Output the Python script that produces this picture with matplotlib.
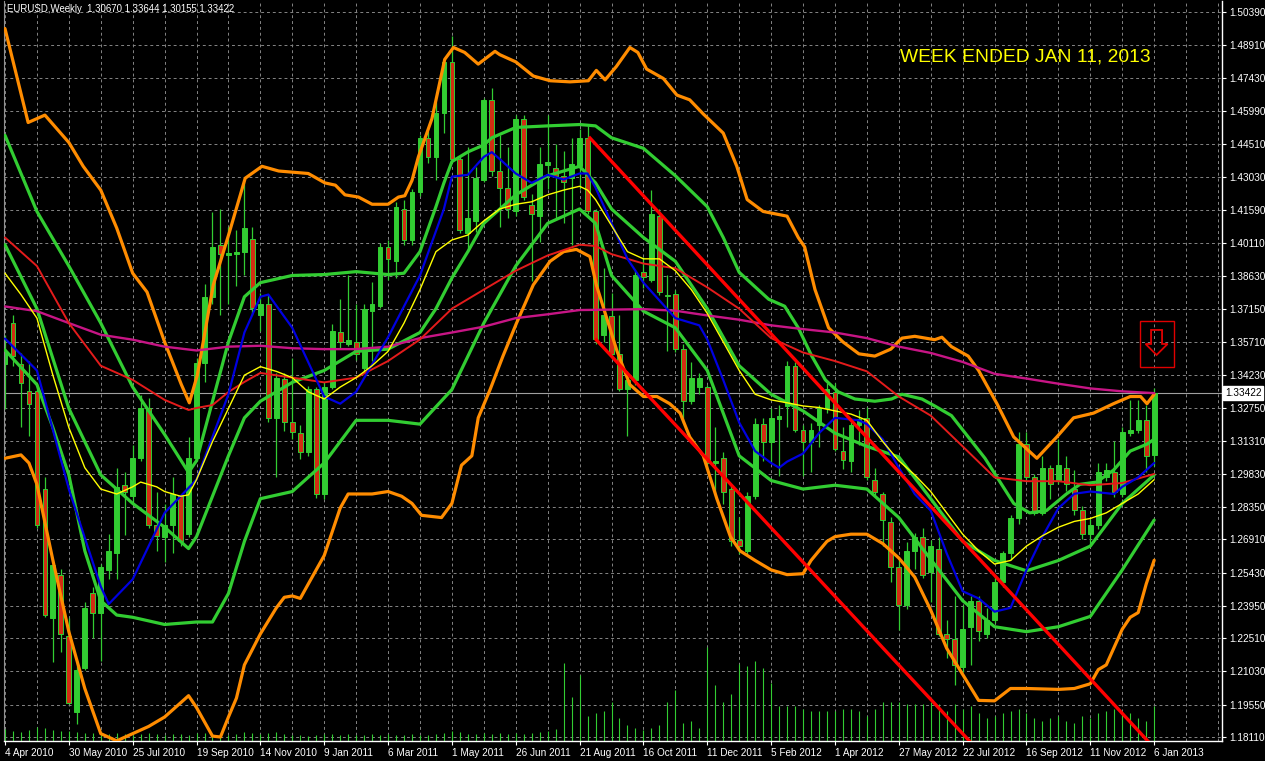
import matplotlib
matplotlib.use("Agg")
import matplotlib.pyplot as plt
import matplotlib.transforms as mtransforms
from matplotlib.patches import Rectangle, Polygon

# ---------------- data (EURUSD weekly, bar 0 = week of 4 Apr 2010) ----------------
opens = [1.3470,1.3655,1.3470,1.3350,1.3350,1.2915,1.2340,1.2534,1.2259,1.1921,
         1.2120,1.2450,1.2365,1.2555,1.2630,1.2935,1.2883,1.3052,1.3274,1.2756,
         1.2703,1.2756,1.2883,1.2714,1.3052,1.3475,1.3771,1.4000,1.3955,1.3960,
         1.3972,1.4030,1.3690,1.3739,1.3232,1.3405,1.3215,1.3165,1.3080,1.3360,
         1.2895,1.3370,1.3615,1.3560,1.3570,1.3455,1.3707,1.3728,1.3993,1.3930,
         1.4162,1.4024,1.4236,1.4479,1.4394,1.4589,1.4817,1.4384,1.4056,1.4110,
         1.4289,1.4648,1.4331,1.4257,1.4151,1.4563,1.4180,1.4130,1.4360,1.4345,
         1.4310,1.4299,1.4352,1.4479,1.4151,1.3600,1.3686,1.3517,1.3360,1.3400,
         1.3880,1.3845,1.4130,1.3780,1.3782,1.3538,1.3306,1.3370,1.3369,1.3031,
         1.3052,1.2915,1.2690,1.2640,1.2883,1.3204,1.3126,1.3225,1.3285,1.3464,
         1.3179,1.3126,1.3200,1.3274,1.3348,1.3084,1.3041,1.3200,1.3232,1.2957,
         1.2893,1.2767,1.2566,1.2397,1.2640,1.2703,1.2545,1.2650,1.2270,1.2249,
         1.2122,1.2302,1.2418,1.2270,1.2333,1.2502,1.2629,1.2788,1.3115,1.2967,
         1.2809,1.3010,1.2957,1.3010,1.2915,1.2820,1.2714,1.2756,1.2967,1.2989,
         1.2893,1.3165,1.3180,1.3221,1.30670]
highs = [1.3600,1.3690,1.3520,1.3485,1.3370,1.2970,1.2600,1.2560,1.2340,1.2150,
         1.2410,1.2480,1.2580,1.2715,1.3010,1.2990,1.3110,1.3333,1.3320,1.2900,
         1.2850,1.2970,1.2890,1.3148,1.3500,1.3830,1.4150,1.4160,1.4080,1.4070,
         1.4282,1.4080,1.3790,1.3780,1.3433,1.3430,1.3500,1.3200,1.3375,1.3370,
         1.3390,1.3650,1.3760,1.3870,1.3740,1.3740,1.3835,1.4010,1.4025,1.4195,
         1.4200,1.4250,1.4490,1.4510,1.4640,1.4830,1.4933,1.4395,1.4440,1.4350,
         1.4655,1.4700,1.4490,1.4440,1.4580,1.4580,1.4230,1.4440,1.4580,1.4450,
         1.4420,1.4480,1.4520,1.4530,1.4160,1.3900,1.3790,1.3690,1.3440,1.3890,
         1.3950,1.4246,1.4160,1.3866,1.3800,1.3560,1.3480,1.3430,1.3380,1.3190,
         1.3080,1.2930,1.2790,1.2900,1.3230,1.3230,1.3275,1.3290,1.3486,1.3480,
         1.3200,1.3210,1.3290,1.3385,1.3385,1.3190,1.3215,1.3265,1.3280,1.3010,
         1.2904,1.2790,1.2600,1.2680,1.2720,1.2740,1.2690,1.2700,1.2330,1.2440,
         1.2400,1.2440,1.2440,1.2386,1.2530,1.2640,1.2800,1.3170,1.3170,1.2980,
         1.3060,1.3020,1.3140,1.3060,1.2999,1.2840,1.2780,1.3030,1.3030,1.3130,
         1.3190,1.3310,1.3310,1.3290,1.33644]
lows = [1.3270,1.3464,1.3190,1.3150,1.2740,1.2345,1.2143,1.2190,1.1960,1.1870,
        1.2110,1.2250,1.2150,1.2515,1.2515,1.2710,1.2850,1.3040,1.2740,1.2640,
        1.2588,1.2630,1.2660,1.2700,1.3040,1.3390,1.3740,1.3690,1.3740,1.3820,
        1.3870,1.3690,1.3620,1.3215,1.2967,1.3175,1.3140,1.3050,1.3060,1.2875,
        1.2870,1.3360,1.3540,1.3550,1.3490,1.3430,1.3485,1.3720,1.3845,1.3855,
        1.4000,1.4000,1.4220,1.4365,1.4290,1.4500,1.4373,1.4055,1.3970,1.4060,
        1.4280,1.4310,1.4080,1.4120,1.4130,1.4200,1.3840,1.4015,1.4250,1.4120,
        1.4100,1.4000,1.4250,1.4140,1.3560,1.3570,1.3500,1.3350,1.3150,1.3380,
        1.3810,1.3835,1.3780,1.3530,1.3527,1.3210,1.3295,1.3340,1.3010,1.2890,
        1.2850,1.2660,1.2624,1.2624,1.2870,1.3040,1.3030,1.2975,1.3190,1.3170,
        1.2975,1.2990,1.3100,1.3255,1.3085,1.3005,1.2990,1.3110,1.2955,1.2890,
        1.2660,1.2500,1.2288,1.2380,1.2560,1.2520,1.2410,1.2260,1.2164,1.2042,
        1.2100,1.2130,1.2240,1.2250,1.2320,1.2480,1.2600,1.2760,1.2950,1.2800,
        1.2800,1.2870,1.2936,1.2905,1.2800,1.2692,1.2660,1.2735,1.2950,1.2880,
        1.2880,1.3150,1.3165,1.2990,1.30155]
closes = [1.3530,1.3506,1.3385,1.3295,1.2756,1.2354,1.2576,1.2270,1.1963,1.2111,
          1.2386,1.2365,1.2566,1.2640,1.2925,1.2900,1.3052,1.3274,1.2756,1.2707,
          1.2756,1.2894,1.2682,1.3052,1.3475,1.3771,1.3993,1.3960,1.3965,1.3970,
          1.4077,1.3720,1.3739,1.3232,1.3411,1.3215,1.3170,1.3080,1.3360,1.2895,
          1.3370,1.3620,1.3570,1.3580,1.3517,1.3718,1.3739,1.3993,1.3940,1.4172,
          1.4024,1.4236,1.4479,1.4394,1.4589,1.4817,1.4384,1.4067,1.4120,1.4299,
          1.4648,1.4331,1.4257,1.4162,1.4563,1.4215,1.4140,1.4363,1.4370,1.4310,
          1.4280,1.4363,1.4479,1.4151,1.3581,1.3690,1.3517,1.3359,1.3400,1.3866,
          1.3860,1.4141,1.3792,1.3775,1.3538,1.3306,1.3411,1.3410,1.3031,1.3041,
          1.2904,1.2682,1.2660,1.2883,1.3204,1.3126,1.3232,1.3240,1.3464,1.3179,
          1.3126,1.3179,1.3274,1.3359,1.3094,1.3045,1.3200,1.3225,1.2967,1.2904,
          1.2777,1.2566,1.2397,1.2640,1.2703,1.2534,1.2661,1.2270,1.2249,1.2132,
          1.2291,1.2418,1.2281,1.2333,1.2502,1.2629,1.2788,1.3115,1.2967,1.2809,
          1.3010,1.2936,1.3020,1.2936,1.2820,1.2714,1.2756,1.2989,1.2999,1.2904,
          1.3168,1.3180,1.3221,1.3063,1.33422]
volumes = [12,10,9,11,14,13,11,10,10,9, 8,8,7,7,8,7,6,7,8,7,
           6,7,7,6,8,8,7,7,6,7, 9,8,7,8,9,7,6,6,5,6,
           7,7,6,7,6,6,7,6,7,6, 6,7,6,6,7,8,10,9,7,7,
           8,7,8,7,8,7,8,9,10,12, 78,44,66,25,28,30,39,23,16,13,
           11,13,16,39,51,18,20,13,94,56, 39,47,77,75,80,73,58,35,35,35,
           32,30,30,30,30,32,32,30,25,32, 39,39,39,37,37,37,39,37,30,37,
           32,35,28,23,25,28,30,32,28,23, 20,23,25,20,18,25,23,28,30,32,
           28,28,23,20,35]
volume_scale = 740.0

# indicator lines, read at sampled bars
ou_bars = [0,2.9,5,8,9.8,12,14,16,17.8,20,22.1,23.1,24.1,26.1,28.1,30.1,32.2,34.3,38,40.1,41.4,42.6,44.3,46,48,
           49.3,50.1,51,51.8,53.5,55.1,56.2,57.6,59.3,61.4,62,64,66.2,68.3,70.8,73.1,74.1,75.2,76.6,78.3,79.3,80.4,
           82.5,84.2,85.8,87.5,90,91.7,93,95,98,99.4,100.2,101.5,103.2,105,107,109,111,112.4,114,116.5,117.4,
           118.6,120.7,122,124.3,126.4,129.3,131.8,133.9,136.4,138.9,141,142.3,143.1,144]
ou_vals = [1.4965,1.4547,1.4580,1.4458,1.4352,1.4246,1.4077,1.3876,1.3792,1.3570,1.3380,1.3299,1.3422,1.3824,
           1.4056,1.4299,1.4352,1.4331,1.4320,1.4278,1.4268,1.4225,1.4215,1.4183,1.4183,1.4215,1.4221,1.4289,
           1.4394,1.4564,1.4828,1.4881,1.4859,1.4807,1.4864,1.4849,1.4817,1.4754,1.4733,1.4728,1.4733,1.4779,
           1.4737,1.4796,1.4881,1.4859,1.4785,1.4743,1.4669,1.4648,1.4585,1.4500,1.4352,1.4204,1.4151,1.4130,
           1.4035,1.3993,1.3803,1.3633,1.3570,1.3517,1.3507,1.3538,1.3587,1.3595,1.3580,1.3591,1.3549,1.3507,
           1.3443,1.3295,1.3147,1.3052,1.3147,1.3232,1.3253,1.3295,1.3327,1.3327,1.3295,1.3337]

gu_bars = [0,4,8,12,16,20,23,24,28,30,32,36,40,44,48,50,52,54,55,56,58,60,61,64,68,72,74,76,80,84,88,90,92,
           95.7,97.7,99.4,101.1,102.8,104.4,106.5,109,111.1,112.4,114.9,116.5,118.6,120.7,122.8,
           126.4,128.4,130.5,133,134.7,136.8,138.9,141,143.1,144]
gu_vals = [1.4490,1.4151,1.3908,1.3654,1.3369,1.3158,1.2989,1.3041,1.3570,1.3771,1.3834,1.3866,1.3870,1.3883,
           1.3870,1.3876,1.3972,1.4172,1.4278,1.4373,1.4416,1.4447,1.4479,1.4525,1.4532,1.4538,1.4532,1.4479,
           1.4432,1.4310,1.4172,1.4035,1.3880,1.3760,1.3729,1.3633,1.3507,1.3401,1.3348,1.3316,1.3306,1.3316,
           1.3337,1.3316,1.3285,1.3242,1.3147,1.3052,1.2851,1.2809,1.2819,1.2893,1.2936,1.2946,1.2999,1.3084,
           1.3115,1.3137]

gm_bars = [0,4,8,12,16,20,23,24,28,30,32,36,40,44,48,52,54,56,58,60,64,68,72,74,76,80,84,88,92,96,100,104,
           108,112,116,120,124,128,132,136,140,144]
gm_vals = [1.4003,1.3718,1.3274,1.2978,1.2851,1.2745,1.2650,1.2703,1.3063,1.3232,1.3306,1.3390,1.3443,1.3528,
           1.3538,1.3612,1.3718,1.3855,1.3972,1.4098,1.4225,1.4310,1.4352,1.4278,1.4162,1.4035,1.3929,1.3718,
           1.3464,1.3337,1.3263,1.3164,1.3105,1.3058,1.2872,1.2682,1.2597,1.2551,1.2597,1.2661,1.2851,1.2978]

gl_bars = [0,4,6,8,10,12,14,16,20,24,26,28,30,32,36,40,44,48,52,56,60,64,68,72,74,76,80,84,88,92,96,100,104,
           108,112,116,120,124,128,132,136,140,144]
gl_vals = [1.3534,1.3380,1.3189,1.2978,1.2640,1.2418,1.2354,1.2344,1.2312,1.2323,1.2323,1.2450,1.2682,1.2872,
           1.2904,1.3031,1.3221,1.3221,1.3204,1.3358,1.3654,1.3908,1.4098,1.4162,1.4098,1.3866,1.3707,1.3633,
           1.3443,1.3063,1.2953,1.2915,1.2932,1.2915,1.2788,1.2602,1.2418,1.2302,1.2280,1.2302,1.2348,1.2555,
           1.2777]

ol_bars = [0,2,3,4,6,8,10,12,14,16,18,20,22,23,24,26,27,28,29,30,32,34,35,36,37,38,40,42,43,46,48,49.7,51,
           52.2,54.7,56,57.2,58.5,59.3,60.8,62.4,64.1,66.2,68.3,70,71.6,73.3,74.1,75.4,76.7,78.3,80,81.7,83.3,
           84.6,85.8,87.5,89.2,90.9,92.1,94,96,98,100,101,102,103,104,106,108,110,112,114,116,118,120,122,124,
           126,128,132,134,136,137,138,140,141,142,143,144]
ol_vals = [1.3052,1.3067,1.3031,1.2936,1.2598,1.2280,1.2027,1.1826,1.1794,1.1826,1.1858,1.1900,1.1963,1.1995,
           1.1942,1.1815,1.1811,1.1900,1.1984,1.2132,1.2270,1.2386,1.2433,1.2439,1.2428,1.2492,1.2619,1.2830,
           1.2893,1.2893,1.2904,1.2883,1.2851,1.2798,1.2788,1.2851,1.3021,1.3063,1.3232,1.3359,1.3507,1.3654,
           1.3824,1.3929,1.3972,1.3982,1.3950,1.3824,1.3676,1.3528,1.3380,1.3327,1.3327,1.3295,1.3253,1.3147,
           1.3063,1.2872,1.2703,1.2640,1.2597,1.2555,1.2534,1.2538,1.2597,1.2640,1.2682,1.2703,1.2714,1.2714,
           1.2672,1.2608,1.2523,1.2376,1.2206,1.2090,1.1974,1.1972,1.2027,1.2027,1.2023,1.2027,1.2048,1.2111,
           1.2132,1.2291,1.2344,1.2365,1.2492,1.2598]

yel_bars = [0,2,4,6,8,10,12,14,16,17,19,20,22,23,24,26,28,30,32,34,36,38,40,42,44,46,48,50,52,54,56,58,60,
            62,64,66,68,70,72,73,74,76,78,80,82,84,86,88,90,92,94,96,98,100,102,104,106,108,110,112,114,116,
            118,120,122,124,126,128,130,132,134,136,138,140,142,144]
yel_vals = [1.3876,1.3781,1.3676,1.3422,1.3189,1.3010,1.2915,1.2893,1.2925,1.2946,1.2925,1.2904,1.2883,1.2889,
            1.2957,1.3126,1.3274,1.3422,1.3460,1.3439,1.3411,1.3348,1.3316,1.3369,1.3411,1.3464,1.3528,1.3654,
            1.3803,1.3972,1.4024,1.4046,1.4109,1.4162,1.4183,1.4194,1.4225,1.4246,1.4263,1.4246,1.4204,1.4088,
            1.3972,1.3940,1.3940,1.3887,1.3803,1.3697,1.3570,1.3443,1.3337,1.3312,1.3299,1.3285,1.3278,1.3263,
            1.3249,1.3221,1.3126,1.3041,1.2978,1.2904,1.2809,1.2714,1.2640,1.2581,1.2597,1.2661,1.2707,1.2745,
            1.2771,1.2784,1.2809,1.2851,1.2893,1.2957]

blue_bars = [0,4,8,12,13,16,20,24,28,30,32,33,36,40,42,44,48,52,55,56,58,60,61,62,64,66,68,70,72,73,74,76,
             78,80,84,87,88,90,92,94,96,97,98,100,102,104,107,108,110,112,114,116,118,120,122,124,126,128,
             130,132,134,136,139,140,142,144]
blue_vals = [1.3585,1.3443,1.2915,1.2481,1.2403,1.2513,1.2809,1.2957,1.3337,1.3612,1.3771,1.3781,1.3633,
             1.3327,1.3295,1.3348,1.3591,1.3866,1.4162,1.4306,1.4314,1.4394,1.4415,1.4384,1.4320,1.4278,
             1.4314,1.4293,1.4320,1.4320,1.4257,1.4098,1.3940,1.3834,1.3676,1.3644,1.3581,1.3401,1.3211,
             1.3084,1.3031,1.3010,1.3037,1.3073,1.3164,1.3232,1.3221,1.3204,1.3136,1.3010,1.2893,1.2819,
             1.2629,1.2460,1.2428,1.2369,1.2386,1.2555,1.2703,1.2830,1.2894,1.2904,1.2893,1.2925,1.2967,1.3031]

red_bars = [0,4,8,12,16,20,23,24,26,28,30,32,36,40,44,48,52,56,60,64,68,72,74,76,80,84,88,92,96,100,104,
            108,112,116,120,124,128,132,136,140,144]
red_vals = [1.4035,1.3908,1.3654,1.3464,1.3401,1.3312,1.3267,1.3276,1.3289,1.3347,1.3392,1.3432,1.3411,
            1.3390,1.3411,1.3485,1.3581,1.3718,1.3803,1.3887,1.3955,1.4003,1.3997,1.3961,1.3919,1.3898,
            1.3813,1.3718,1.3587,1.3523,1.3485,1.3439,1.3327,1.3242,1.3105,1.2967,1.2950,1.2950,1.2932,
            1.2942,1.2982]

mag_bars = [0,4,8,12,16,20,24,28,32,36,40,44,48,52,56,60,64,68,72,76,80,84,88,92,96,100,104,108,112,116,
            120,124,128,132,136,140,144]
mag_vals = [1.3728,1.3707,1.3654,1.3602,1.3580,1.3549,1.3532,1.3549,1.3553,1.3542,1.3538,1.3538,1.3549,
            1.3587,1.3612,1.3638,1.3676,1.3693,1.3712,1.3714,1.3716,1.3709,1.3688,1.3669,1.3644,1.3627,
            1.3612,1.3587,1.3549,1.3521,1.3481,1.3428,1.3407,1.3384,1.3363,1.3350,1.3342]

# red down channel (trend lines: bar, price)
chan_up_bars = [73.3, 145.0]
chan_up_vals = [1.4478, 1.1724]
chan_lo_bars = [74.1, 130.0]
chan_lo_vals = [1.3579, 1.1444]

signal_bar = 144.3
signal_price = 1.3561
last_price = 1.33422

date_bars = list(range(0, 145, 8))
date_labels = ['4 Apr 2010','30 May 2010','25 Jul 2010','19 Sep 2010','14 Nov 2010','9 Jan 2011',
               '6 Mar 2011','1 May 2011','26 Jun 2011','21 Aug 2011','16 Oct 2011','11 Dec 2011',
               '5 Feb 2012','1 Apr 2012','27 May 2012','22 Jul 2012','16 Sep 2012','11 Nov 2012','6 Jan 2013']
price_ticks = [1.50390,1.48910,1.47430,1.45990,1.44510,1.43030,1.41590,1.40110,1.38630,1.37150,1.35710,
               1.34230,1.32750,1.31310,1.29830,1.28350,1.26910,1.25430,1.23950,1.22510,1.21030,1.19550,1.18110]

title_text = "EURUSD,Weekly  1.30670 1.33644 1.30155 1.33422"
note_text = "WEEK ENDED JAN 11, 2013"

# ---------------- drawing ----------------
W, H = 1265, 761
FONT = "Liberation Sans"
fig = plt.figure(figsize=(W / 100, H / 100), dpi=100, facecolor="black")
ax = fig.add_axes([4 / W, 20 / H, 1218 / W, 740 / H])
ax.set_facecolor("black")
ax.set_xlim(-0.125, 152.5)
ax.set_ylim(1.17932, 1.50880)

GREEN = "#32cd32"
BEAR = "#d22d12"

# grid
ax.set_axisbelow(True)
ax.set_xticks(date_bars)
ax.set_xticks(list(range(0, 153, 4)), minor=True)
ax.set_yticks(price_ticks)
ax.grid(True, which="both", axis="x", color="#858585", lw=0.7, ls=(0, (3, 3)))
ax.grid(True, which="major", axis="y", color="#858585", lw=0.7, ls=(0, (3, 3)))

# volumes
idx = list(range(len(opens)))
ax.vlines(idx, 0, [v / volume_scale for v in volumes], transform=ax.get_xaxis_transform(),
          colors=GREEN, lw=0.8, zorder=1)

# last price line
ax.axhline(last_price, color="#a0a0a0", lw=0.8, zorder=1.5)

# candles
ax.vlines(idx, lows, highs, colors=GREEN, lw=0.9, zorder=2)
bottoms = [min(o, c) for o, c in zip(opens, closes)]
heights = [max(abs(c - o), 0.00025) for o, c in zip(opens, closes)]
faces = [GREEN if c >= o else BEAR for o, c in zip(opens, closes)]
ax.bar(idx, heights, bottom=bottoms, width=0.6, color=faces, edgecolor=GREEN, linewidth=0.7, zorder=2.2)

# indicator lines
kw = dict(solid_joinstyle="round", solid_capstyle="round")
ax.plot(ou_bars, ou_vals, color="#ff8c00", lw=2.3, zorder=3, **kw)
ax.plot(ol_bars, ol_vals, color="#ff8c00", lw=2.3, zorder=3, **kw)
ax.plot(gu_bars, gu_vals, color=GREEN, lw=2.3, zorder=3, **kw)
ax.plot(gm_bars, gm_vals, color=GREEN, lw=2.3, zorder=3, **kw)
ax.plot(gl_bars, gl_vals, color=GREEN, lw=2.3, zorder=3, **kw)
ax.plot(mag_bars, mag_vals, color="#c71585", lw=1.7, zorder=3.1, **kw)
ax.plot(red_bars, red_vals, color="#e41b1b", lw=1.4, zorder=3.2, **kw)
ax.plot(blue_bars, blue_vals, color="#0000e0", lw=1.6, zorder=3.3, **kw)
ax.plot(yel_bars, yel_vals, color="#ffff00", lw=1.0, zorder=3.4, **kw)

# channel
ax.plot(chan_up_bars, chan_up_vals, color="#ff0000", lw=2.4, zorder=4)
ax.plot(chan_lo_bars, chan_lo_vals, color="#ff0000", lw=2.4, zorder=4)

# down-arrow signal (outline drawn in pixel offsets around its anchor)
anchor = ax.transData.transform((signal_bar, signal_price))
pix = mtransforms.Affine2D().scale(1, -1).translate(anchor[0], anchor[1])
box = Rectangle((-17, -23), 34, 46, transform=pix, fill=False, ec="#e00000", lw=1.0, zorder=6)
ax.add_patch(box)
arrow = Polygon([(-5.5, -14), (5.5, -14), (5.5, 0), (11, 0), (0, 11), (-11, 0), (-5.5, 0)],
                closed=True, transform=pix, fill=False, ec="#e00000", lw=1.3, zorder=6)
ax.add_patch(arrow)

# axes styling
ax.spines["top"].set_visible(False)
ax.spines["left"].set_color("#909090")
ax.spines["left"].set_linewidth(0.8)
ax.spines["right"].set_color("white")
ax.spines["bottom"].set_color("white")
ax.spines["right"].set_linewidth(1.0)
ax.spines["bottom"].set_linewidth(1.0)

ax.yaxis.tick_right()
ax.set_yticklabels(["%.5f" % v for v in price_ticks])
ax.tick_params(axis="y", which="major", colors="white", direction="out", length=3, pad=2,
               labelsize=7.2, right=True, left=False)
ax.set_xticklabels(date_labels, ha="left")
ax.tick_params(axis="x", which="major", colors="white", direction="out", length=3, pad=2, labelsize=7.2)
ax.tick_params(axis="x", which="minor", length=0)
for lab in ax.get_xticklabels() + ax.get_yticklabels():
    lab.set_fontfamily(FONT)
    lab.set_color("white")

# last price label
ax.text(1.0025, last_price, "%.5f" % last_price, transform=ax.get_yaxis_transform(),
        ha="left", va="center", fontsize=7.2, family=FONT, color="black", zorder=10, clip_on=False,
        bbox=dict(boxstyle="square,pad=0.18", fc="white", ec="white"))

# texts
fig.text(7 / W, 1 - 9.5 / H, title_text, color="white", fontsize=6.9, family=FONT, ha="left", va="center")
fig.text(900 / W, 1 - 57 / H, note_text, color="#ffff00", fontsize=13.9, family=FONT, ha="left", va="center")

fig.savefig("out.png", dpi=100, facecolor="black")
